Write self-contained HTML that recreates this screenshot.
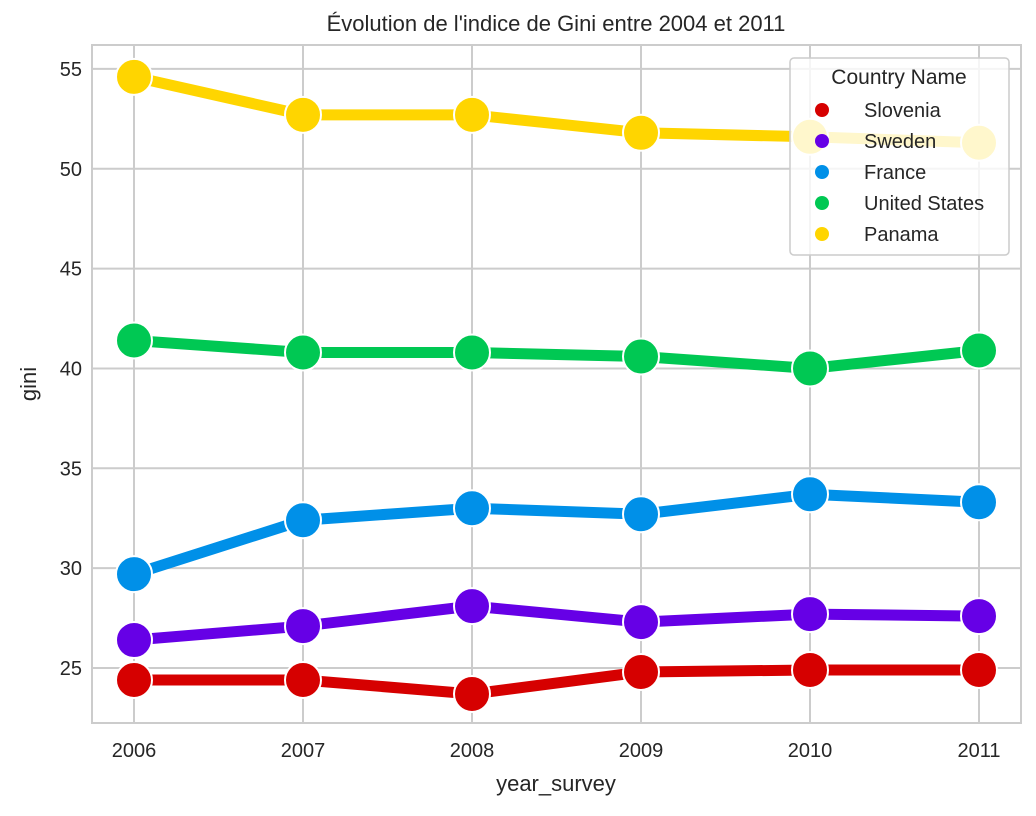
<!DOCTYPE html>
<html><head><meta charset="utf-8"><style>
body{margin:0;background:#fff;font-family:"Liberation Sans","DejaVu Sans",sans-serif}
svg text{font-family:"Liberation Sans","DejaVu Sans",sans-serif;fill:#262626}
</style></head><body>
<svg id="chart" width="1036" height="811" xmlns="http://www.w3.org/2000/svg">
<text x="556" y="31" font-size="22" text-anchor="middle">Évolution de l'indice de Gini entre 2004 et 2011</text>
<g id="grid"></g>
<g id="series"></g>
<rect x="92" y="45" width="929" height="678" fill="none" stroke="#cccccc" stroke-width="2"/>
<g id="ticks"></g>
<text x="556" y="791" font-size="22" text-anchor="middle">year_survey</text>
<text transform="translate(36,384) rotate(-90)" font-size="22" text-anchor="middle">gini</text>
<g id="legend"></g>
</svg>
<script>
const years=[2006,2007,2008,2009,2010,2011];
const countries=["Slovenia","Sweden","France","United States","Panama"];
const colors=["#d60000","#6600e6","#0090e8","#00c853","#ffd500"];
const slovenia=[24.4,24.4,23.7,24.8,24.9,24.9];
const sweden=[26.4,27.1,28.1,27.3,27.7,27.6];
const france=[29.7,32.4,33.0,32.7,33.7,33.3];
const unitedStates=[41.4,40.8,40.8,40.6,40.0,40.9];
const panama=[54.6,52.7,52.7,51.8,51.6,51.3];
const yTicks=[25,30,35,40,45,50,55];
const seriesList=[slovenia,sweden,france,unitedStates,panama];
const NS="http://www.w3.org/2000/svg";
const X=v=>134+(v-2006)*169;
const Y=v=>668-(v-25)*19.97;
function mk(tag,attrs,parent){const e=document.createElementNS(NS,tag);for(const k in attrs)e.setAttribute(k,attrs[k]);parent.appendChild(e);return e;}
const grid=document.getElementById('grid'),ticks=document.getElementById('ticks'),ser=document.getElementById('series'),leg=document.getElementById('legend');
years.forEach(y=>{
 const l=mk('line',{x1:X(y),x2:X(y),y1:45,y2:723,stroke:'#cccccc','stroke-width':2},grid);
 
 
 const t=mk('text',{x:X(y),y:757,'font-size':20,'text-anchor':'middle'},ticks);t.textContent=y;
 
 
});
yTicks.forEach(v=>{
 const l=mk('line',{x1:92,x2:1021,y1:Y(v),y2:Y(v),stroke:'#cccccc','stroke-width':2},grid);
 
 
 const t=mk('text',{x:82,y:Y(v)+7,'font-size':20,'text-anchor':'end'},ticks);t.textContent=v;
 
 
});
seriesList.forEach((s,i)=>{
 const p=mk('polyline',{points:s.map((v,j)=>X(years[j])+','+Y(v)).join(' '),fill:'none',stroke:colors[i],'stroke-width':11},ser);
 
 
 s.forEach((v,j)=>{
  const c=mk('circle',{cx:X(years[j]),cy:Y(v),r:18,fill:colors[i],stroke:'#fff','stroke-width':2},ser);
  
  
 });
});
const box=mk('rect',{x:790,y:58,width:219,height:197,rx:4,fill:'#fff','fill-opacity':0.8,stroke:'#cccccc','stroke-width':1.5},leg);


const lt=mk('text',{x:899,y:84,'font-size':21,'text-anchor':'middle'},leg);lt.textContent='Country Name';


countries.forEach((c,i)=>{
 const g=mk('g',{},leg);
 
 
 mk('circle',{cx:822,cy:110+i*31,r:7,fill:colors[i]},g);
 const t=mk('text',{x:864,y:117+i*31,'font-size':20},g);t.textContent=c;
});
</script>
</body></html>
